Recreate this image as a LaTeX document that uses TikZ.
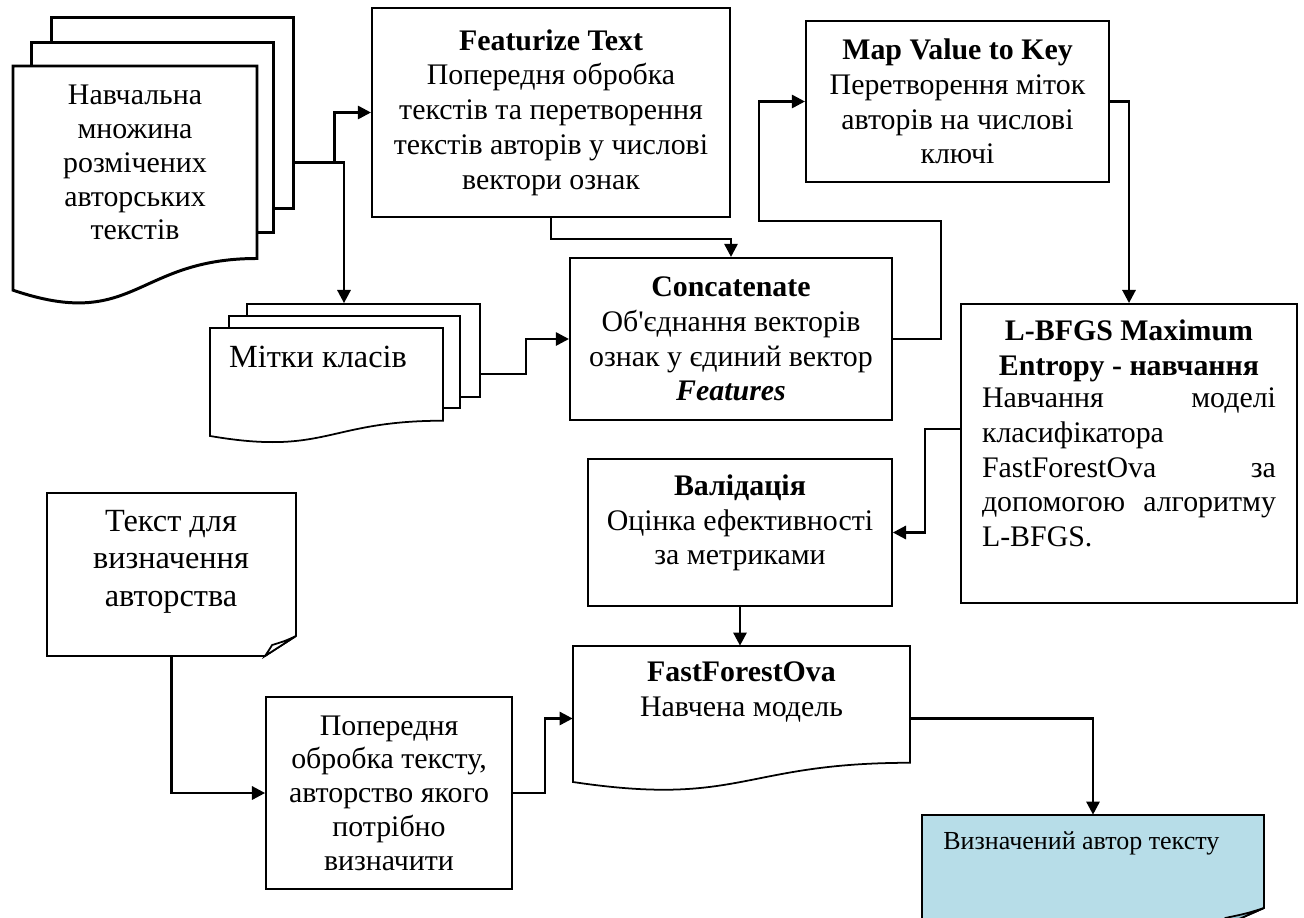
\documentclass[tikz,border=0pt]{standalone}
\usepackage{fontspec}
\setmainfont{Liberation Serif}
\usepackage{tikz}
\usetikzlibrary{arrows.meta,positioning}
\definecolor{resultblue}{RGB}{183,221,232}
\definecolor{foldblue}{RGB}{146,190,204}
\tikzstyle{arrow} = [line width=1.5pt,-{Triangle[length=7.5pt,width=7.5pt]}]
\tikzstyle{block} = [rectangle, draw, line width=1.2pt, inner sep=0pt, align=center, font=\fontsize{17}{19.8}\selectfont]
\tikzstyle{sheet} = [rectangle, draw, fill=white, inner sep=0pt]
\tikzstyle{shapebox} = [rectangle, inner sep=0pt]
\tikzstyle{txt} = [inner sep=0pt, align=center, font=\fontsize{17}{19.8}\selectfont]
% document sheet with wavy bottom: x, y, width, height
\newcommand{\docshape}[5][]{%
  \draw[fill=white,#1] (#2,#3) -- ({#2+#4},#3) -- ({#2+#4},{#3+0.802*#5})
    .. controls ({#2+0.5*#4},{#3+0.802*#5}) and ({#2+0.5*#4},{#3+1.107*#5}) .. (#2,{#3+0.934*#5}) -- cycle;}
% note with folded corner: fill, fold fill, x, y, width, height, dx, dy
\newcommand{\foldnote}[8][white]{%
  \draw[line width=1pt, fill=#1] (#3,#4) -- ({#3+#5},#4) -- ({#3+#5},{#4+#6-#8}) -- ({#3+#5-#7},{#4+#6}) -- (#3,{#4+#6}) -- cycle;
  \draw[line width=1pt, fill=#2] ({#3+#5},{#4+#6-#8}) .. controls ({#3+#5-0.35*#7},{#4+#6-0.75*#8}) .. ({#3+#5-0.77*#7},{#4+#6-0.55*#8})
    .. controls ({#3+#5-0.85*#7},{#4+#6-0.35*#8}) .. ({#3+#5-#7},{#4+#6}) -- cycle;}

\begin{document}
\begin{tikzpicture}[x=0.02cm, y=-0.02cm]
\useasboundingbox (0,0) rectangle (1304,917);

% training texts (stack of documents)
\node[sheet, line width=1.7pt, minimum width=4.86cm, minimum height=3.84cm] (trainback) at (172.5,113) {};
\node[sheet, line width=1.7pt, minimum width=4.86cm, minimum height=3.82cm] (trainmid) at (152.5,137.5) {};
\docshape[line width=1.7pt]{13}{66}{244}{240}
\node[txt, font=\fontsize{17}{19.3}\selectfont] (train) at (135,162.5) {Навчальна\\множина\\розмічених\\авторських\\текстів};

% class labels (stack of documents)
\node[sheet, line width=1pt, minimum width=4.66cm, minimum height=1.86cm] (labelsback) at (363.5,350.5) {};
\node[sheet, line width=1pt, minimum width=4.62cm, minimum height=1.84cm] (labelsmid) at (344.5,362) {};
\docshape[line width=1pt]{210}{328}{233}{115.6}
\node[txt, font=\fontsize{18.4}{21.3}\selectfont] (labels) at (318,357) {Мітки класів};

% pipeline blocks
\node[block, minimum width=7.16cm, minimum height=4.18cm] (feat) at (551,112.5) {\textbf{Featurize Text}\\Попередня обробка\\текстів та перетворення\\текстів авторів у числові\\вектори ознак};
\node[block, minimum width=6.06cm, minimum height=3.22cm] (map) at (957.5,101.5) {\textbf{Map Value to Key}\\Перетворення міток\\авторів на числові\\ключі};
\node[block, minimum width=6.44cm, minimum height=3.24cm] (concat) at (731,339) {\textbf{Concatenate}\\Об\textquotesingle єднання векторів\\ознак у єдиний вектор\\\textbf{\textit{Features}}};

\node[block, line width=1.1pt, minimum width=6.72cm, minimum height=5.98cm] (lbfgs) at (1129,453.5) {};
\node[txt] (lbfgshead) at (1129,350.5) {\textbf{L-BFGS Maximum}\\\textbf{Entropy - навчання}};
\node[txt, text width=5.88cm, align=left] (lbfgsbody) at (1129,467.5) {Навчання\hfill моделі\\класифікатора\\FastForestOva\hfill за\\допомогою\hfill алгоритму\\L-BFGS.};

\node[block, line width=1pt, minimum width=6.08cm, minimum height=2.94cm] (valid) at (740,532.5) {};
\node[txt] (validtext) at (740,523) {\textbf{Валідація}\\Оцінка ефективності\\за метриками};

% text to attribute
\foldnote[white]{white}{47}{493}{249}{163}{31}{20}
\node[shapebox, minimum width=4.98cm, minimum height=3.26cm] (query) at (171.5,574.5) {};
\node[txt, font=\fontsize{18.4}{21.3}\selectfont] (querytext) at (171,561.5) {Текст для\\визначення\\авторства};

\node[block, line width=1pt, minimum width=4.92cm, minimum height=3.84cm, font=\fontsize{17}{19.2}\selectfont] (prep) at (389,793) {Попередня\\обробка тексту,\\авторство якого\\потрібно\\визначити};

% trained model
\docshape[line width=1pt]{573}{646}{337}{145.6}
\node[shapebox, minimum width=6.74cm, minimum height=2.9cm] (ffbox) at (741.5,718.5) {};
\node[txt] (fftext) at (741.5,692) {\textbf{FastForestOva}\\Навчена модель};

% result
\foldnote[resultblue]{foldblue}{922}{815}{342}{115}{50}{22}
\node[shapebox, minimum width=6.84cm, minimum height=2.3cm] (result) at (1093,872.5) {};
\node[txt, anchor=west, font=\fontsize{14.8}{17}\selectfont] (resulttext) at (943,843) {Визначений автор тексту};

% connectors
\draw[arrow] (trainback.east |- train) -- ++(39,0) |- (feat.west);
\draw[arrow] (trainback.east |- train) -| ([xshift=-0.39cm]labelsback.north);
\draw[arrow] ([yshift=-0.47cm]labelsback.east) -- ++(45,0) |- (concat.west);
\draw[arrow] (feat.south) -- ++(0,21) -| (concat.north);
\draw[arrow] (concat.east) -- ++(48,0) -- ++(0,-118) -- ++(-182,0) |- (map.west);
\draw[arrow] (map.east) -| (lbfgs.north);
\draw[arrow] ([yshift=0.49cm]lbfgs.west) -- ++(-35,0) |- (valid.east);
\draw[arrow] (valid.south) -- (valid.south |- ffbox.north);
\draw[arrow] (query.south) |- (prep.west);
\draw[arrow] (prep.east) -- ++(32,0) |- (ffbox.west);
\draw[arrow] (ffbox.east) -| (result.north);
\end{tikzpicture}
\end{document}
